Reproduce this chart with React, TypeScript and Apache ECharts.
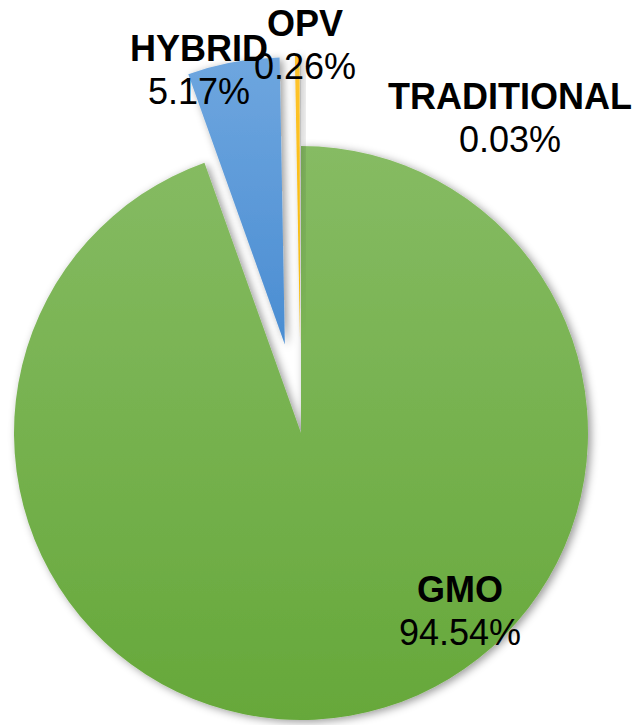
import React, { useEffect, useRef } from "react";
import * as echarts from "echarts";

const categories = ["GMO", "HYBRID", "OPV", "TRADITIONAL"];
const shares = [94.54, 5.17, 0.26, 0.03];
const explodeOffset = [0, 90, 90, 90];

const colorTop = ["#86bb63", "#6ea6df", "#ffc42e", "#a5a5a5"];
const colorBottom = ["#66a83a", "#4a8dd2", "#f5b800", "#8f8f8f"];
const labelPos: [number, number][] = [
  [460, 611],
  [199, 70],
  [305, 45],
  [510, 118],
];

const CX = 301;
const CY = 433;
const R = 287;

export default function App() {
  const ref = useRef<HTMLDivElement>(null);
  useEffect(() => {
    if (!ref.current) return;
    const chart = echarts.init(ref.current, null, { renderer: "svg" });
    const total = shares.reduce((a, b) => a + b, 0);
    let cum = 0;
    const series = categories.map((_, k) => {
      const mid = ((cum + shares[k] / 2) / total) * Math.PI * 2;
      cum += shares[k];
      const cx = CX + explodeOffset[k] * Math.sin(mid);
      const cy = CY - explodeOffset[k] * Math.cos(mid);
      const data = categories.map((name, i) => {
        if (i !== k) {
          return {
            name,
            value: shares[i],
            itemStyle: { color: "rgba(0,0,0,0)", borderWidth: 0 },
            label: { show: false },
          };
        }
        return {
          name,
          value: shares[i],
          itemStyle: {
            color: new echarts.graphic.LinearGradient(0, 0, 0, 1, [
              { offset: 0, color: colorTop[i] },
              { offset: 1, color: colorBottom[i] },
            ]),
            shadowBlur: 8,
            shadowColor: "rgba(0,0,0,0.4)",
            shadowOffsetX: 3,
            shadowOffsetY: 2,
          },
        };
      });
      return {
        type: "pie",
        center: [cx, cy],
        radius: [0, R],
        startAngle: 90,
        clockwise: true,
        avoidLabelOverlap: false,
        minShowLabelAngle: 0,
        silent: true,
        z: k === 0 ? 2 : 3,
        data,
        labelLine: { show: false },
        label: {
          show: true,
          position: "outside",
          formatter: (p: any) => `{n|${p.name}}\n{v|${p.value.toFixed(2)}%}`,
          rich: {
            n: {
              fontFamily: "Liberation Sans",
              fontWeight: "bold",
              fontSize: 36,
              lineHeight: 43,
              color: "#000000",
              align: "center",
            },
            v: {
              fontFamily: "Liberation Sans",
              fontSize: 36,
              lineHeight: 43,
              color: "#000000",
              align: "center",
            },
          },
        },
        labelLayout: () => ({
          x: labelPos[k][0],
          y: labelPos[k][1],
          align: "center",
          verticalAlign: "middle",
          hideOverlap: false,
        }),
      };
    });
    chart.setOption({
      animation: false,
      backgroundColor: "#ffffff",
      series,
    });
    return () => chart.dispose();
  }, []);
  return (
    <div
      ref={ref}
      style={{ position: "absolute", left: 0, top: 0, width: 634, height: 725 }}
    />
  );
}
